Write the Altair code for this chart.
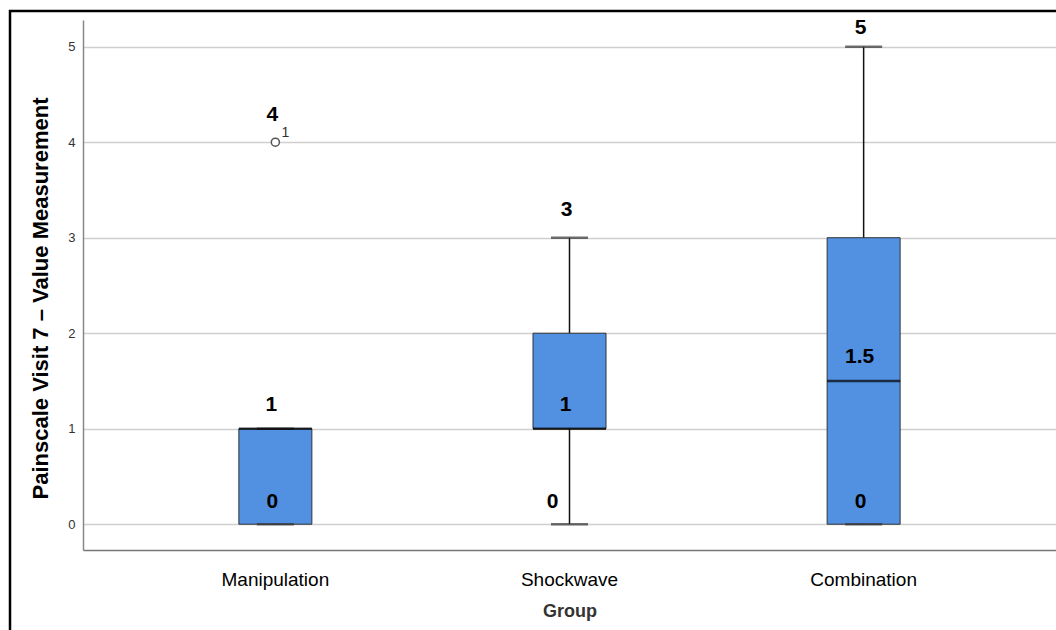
import altair as alt
import pandas as pd

# Five-number summaries per treatment group
groups = ["Manipulation", "Shockwave", "Combination"]
lower = [0, 0, 0]
q1 = [0, 1, 0]
median = [1, 1, 1.5]
q3 = [1, 2, 3]
upper = [1, 3, 5]
# highest labelled point per group (outlier for Manipulation, whisker end otherwise)
top_value = [4, 3, 5]

# Outliers
outlier_group = ["Manipulation"]
outlier_value = [4]
outlier_case = ["1"]

FONT = "Liberation Sans"

box = pd.DataFrame({
    "group": groups, "lower": lower, "q1": q1, "median": median,
    "q3": q3, "upper": upper, "top": top_value,
})
out = pd.DataFrame({"group": outlier_group, "value": outlier_value, "case": outlier_case})

x_enc = alt.X(
    "group:N", sort=groups, title="Group",
    scale=alt.Scale(paddingInner=0, paddingOuter=0.154),
    axis=alt.Axis(
        labelAngle=0, labelFontSize=19, labelColor="#000", labelFont=FONT,
        labelPadding=20, ticks=False, domainColor="#777", domainWidth=1.5,
        titleFont=FONT, titleFontSize=18, titleFontWeight="bold",
        titleColor="#333", titlePadding=13, grid=False,
    ),
)
y_scale = alt.Scale(domain=[-0.27, 5.28], nice=False, zero=False)
y_axis = alt.Axis(
    values=[0, 1, 2, 3, 4, 5], ticks=False, tickSize=0, labelPadding=8,
    labelFontSize=13, labelColor="#333", labelFont=FONT,
    domainColor="#888", domainWidth=1.5, gridColor="#cfcfcf", gridWidth=1.5,
    title="Painscale Visit 7 \u2013 Value Measurement", titleFont=FONT,
    titleFontSize=22, titleFontWeight="bold", titleColor="#000",
    titleAngle=-90, titleBaseline="middle", titleX=-43, titleY=278,
)

base = alt.Chart(box)

frame = alt.Chart(pd.DataFrame({"k": [0]})).mark_rect(
    fill=None, stroke="#000", strokeWidth=2.5
).encode(
    x=alt.value(-73), x2=alt.value(1200), y=alt.value(-9), y2=alt.value(800)
)

whisker = base.mark_rule(color="#111", strokeWidth=1.5).encode(
    x=x_enc, y=alt.Y("lower:Q", scale=y_scale, axis=y_axis), y2="upper:Q"
)

boxes = base.mark_bar(size=73, color="#5291E2", stroke="#333", strokeWidth=1).encode(
    x=x_enc, y=alt.Y("q1:Q", scale=y_scale, axis=y_axis), y2="q3:Q"
)

cap_low = base.mark_tick(size=37, thickness=2.5, color="#333", orient="horizontal").encode(
    x=x_enc, y=alt.Y("lower:Q", scale=y_scale, axis=y_axis)
)
cap_high = base.mark_tick(size=37, thickness=2.5, color="#333", orient="horizontal").encode(
    x=x_enc, y=alt.Y("upper:Q", scale=y_scale, axis=y_axis)
)
med = base.mark_tick(size=73, thickness=2.5, color="#000", orient="horizontal").encode(
    x=x_enc, y=alt.Y("median:Q", scale=y_scale, axis=y_axis)
)

outlier = alt.Chart(out).mark_point(
    shape="circle", size=65, filled=False, fill="#fff", fillOpacity=1,
    stroke="#555", strokeWidth=1.5, opacity=1
).encode(x=x_enc, y=alt.Y("value:Q", scale=y_scale, axis=y_axis))

case_label = alt.Chart(out).mark_text(
    font=FONT, fontSize=14, color="#333", dx=10, dy=-9, baseline="middle"
).encode(x=x_enc, y=alt.Y("value:Q", scale=y_scale, axis=y_axis), text="case:N")

label_style = dict(font=FONT, fontSize=21, fontWeight="bold", color="#000", baseline="middle")

top_lab = base.transform_calculate(
    pos="min(datum.top + 0.29, 5.2)"
).mark_text(dx=-3, **label_style).encode(
    x=x_enc, y=alt.Y("pos:Q", scale=y_scale, axis=y_axis), text=alt.Text("top:Q")
)
med_lab = base.transform_calculate(
    pos="datum.median + 0.25"
).mark_text(dx=-4, **label_style).encode(
    x=x_enc, y=alt.Y("pos:Q", scale=y_scale, axis=y_axis), text=alt.Text("median:Q")
)
low_in = base.transform_filter("datum.lower == datum.q1").transform_calculate(
    pos="datum.lower + 0.23"
).mark_text(dx=-3, **label_style).encode(
    x=x_enc, y=alt.Y("pos:Q", scale=y_scale, axis=y_axis), text=alt.Text("lower:Q")
)
low_out = base.transform_filter("datum.lower < datum.q1").transform_calculate(
    pos="datum.lower + 0.23"
).mark_text(dx=-17, **label_style).encode(
    x=x_enc, y=alt.Y("pos:Q", scale=y_scale, axis=y_axis), text=alt.Text("lower:Q")
)

chart = alt.layer(
    whisker, boxes, cap_low, cap_high, med, outlier, case_label,
    top_lab, med_lab, low_in, low_out, frame,
).properties(
    width=973, height=530,
    padding={"left": 83, "top": 20, "right": 0, "bottom": 80},
    autosize=alt.AutoSizeParams(type="none"),
    background="#ffffff",
).configure_view(stroke=None)

chart.save("out.html", embed_options={"renderer": "svg", "actions": False})
